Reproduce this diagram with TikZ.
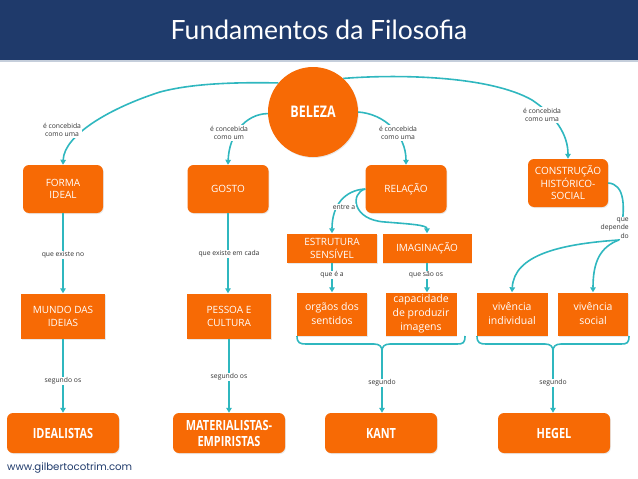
\documentclass[tikz,border=0pt]{standalone}
\usepackage{fontspec}
\setmainfont{Open Sans}
\newfontfamily\condfont[FakeStretch=0.78]{Open Sans}
\newfontfamily\titlefont{Lato}
\newfontfamily\urlfont{Poppins}
\usetikzlibrary{arrows.meta,shadows}
\definecolor{hdr}{HTML}{1F3A6B}
\definecolor{hdrline}{HTML}{C5CEDB}
\definecolor{org}{HTML}{F76A05}
\definecolor{tl}{HTML}{2FB7BF}
\definecolor{lbl}{HTML}{333333}
\begin{document}
\begin{tikzpicture}[x=1pt,y=-1pt,
  shad/.style={drop shadow={opacity=0.18,shadow xshift=0.8pt,shadow yshift=-1pt}},
  rbox/.style={shad,fill=org,rounded corners=6pt,text=white,align=center,inner sep=0pt,
    font=\fontsize{10}{12.5}\selectfont,minimum width=80pt,minimum height=48pt},
  sbox/.style={shad,fill=org,text=white,align=center,inner sep=0pt,
    font=\fontsize{10}{13}\selectfont,minimum width=84pt,minimum height=45pt},
  lbox/.style={shad,fill=org,text=white,align=center,inner sep=0pt,
    font=\fontsize{10.5}{14}\selectfont,minimum width=70pt,minimum height=43pt},
  bbox/.style={shad,fill=org,rounded corners=6pt,text=white,align=center,inner sep=0pt,
    font=\condfont\bfseries\fontsize{14}{16}\selectfont,minimum width=112pt,minimum height=40pt},
  lab/.style={fill=white,text=lbl,align=center,inner sep=1pt,font=\fontsize{6.8}{8.5}\selectfont},
  line/.style={draw=tl,line width=1.6pt},
  conn/.style={line,-{Triangle[length=5pt,width=5.5pt]}}
]
\useasboundingbox (0,0) rectangle (638,479);
% header
\fill[hdr] (0,0) rectangle (638,60);
\fill[hdrline] (0,60) rectangle (638,62);
\node[text=white,font=\titlefont\fontsize{26.5}{28}\selectfont] (title) at (319,30) {Fundamentos da Filosofia};

% central
\node[shad,circle,fill=org,minimum size=90pt,inner sep=0pt,text=white,
  font=\condfont\bfseries\fontsize{16}{18}\selectfont] (bel) at (313,112) {BELEZA};

% row 1
\node[rbox] (forma) at (63,189) {FORMA\\IDEAL};
\node[rbox,minimum width=81pt] (gosto) at (228,189) {GOSTO};
\node[rbox,minimum width=81pt] (rel) at (406,189) {RELAÇÃO};
\node[rbox] (cons) at (568,183) {CONSTRUÇÃO\\HISTÓRICO-\\SOCIAL};

% row 2
\node[sbox] (mundo) at (63,316) {MUNDO DAS\\IDEIAS};
\node[sbox] (pessoa) at (229,316) {PESSOA E\\CULTURA};
\node[sbox,minimum width=90pt,minimum height=29pt] (estr) at (332,248) {ESTRUTURA\\SENSÍVEL};
\node[sbox,minimum width=89pt,minimum height=29pt] (imag) at (427,248) {IMAGINAÇÃO};

% row 3
\node[lbox] (org) at (332,314) {orgãos dos\\sentidos};
\node[lbox,minimum width=71pt] (cap) at (421,314) {capacidade\\de produzir\\imagens};
\node[lbox,minimum width=71pt] (viv1) at (512,314) {vivência\\individual};
\node[lbox] (viv2) at (593,314) {vivência\\social};

% bottom
\node[bbox] (ideal) at (63,433) {IDEALISTAS};
\node[bbox] (mat) at (229,433) {MATERIALISTAS-\\EMPIRISTAS};
\node[bbox] (kant) at (381,433) {KANT};
\node[bbox] (hegel) at (554,433) {HEGEL};

% connectors from BELEZA
\draw[conn] (bel.140) .. controls (230,82) and (190,84) .. (160,92)
  .. controls (110,108) and (64,135) .. (forma.north);
\draw[conn] (bel.182) .. controls (245,114) and (229,135) .. (gosto.north);
\draw[conn] (bel.0) .. controls (385,114) and (406,135) .. (rel.north);
\draw[conn] (bel.48) .. controls (400,74) and (490,76) .. (532,100)
  .. controls (556,116) and (568,135) .. (cons.north);

% verticals
\draw[conn] (forma.south) -- (mundo.north);
\draw[conn] (gosto.south) -- (gosto.south |- pessoa.north);
\draw[conn] (mundo.south) -- (ideal.north);
\draw[conn] (pessoa.south) -- (mat.north);

% RELACAO branches
\draw[conn] (rel.west) .. controls (345,190) and (332,205) .. (estr.north);
\draw[conn] (rel.west) .. controls (350,193) and (352,220) .. (385,222)
  .. controls (410,224) and (427,225) .. (imag.north);
\draw[conn] (estr.south) -- (org.north);
\draw[conn] (imag.south) -- (imag.south |- cap.north);

% CONSTRUCAO branches
\coordinate (sp) at (619,240);
\draw[line] (cons.east) .. controls (624,184) and (627,205) .. (sp);
\draw[conn] (sp) .. controls (560,244) and (514,255) .. (viv1.north);
\draw[conn] (sp) .. controls (600,247) and (593,262) .. (viv2.north);

% braces
\coordinate (b1) at (382,351);
\coordinate (b2) at (553,351);
\draw[line] (297,336) .. controls (297,343) and (300,344) .. (306,344) -- (374,344)
  .. controls (380,344) and (382,347) .. (b1)
  .. controls (382,347) and (384,344) .. (390,344) -- (457,344)
  .. controls (463,344) and (465,343) .. (465,336);
\draw[line] (477,336) .. controls (477,343) and (480,344) .. (486,344) -- (545,344)
  .. controls (551,344) and (553,347) .. (b2)
  .. controls (553,347) and (555,344) .. (561,344) -- (621,344)
  .. controls (627,344) and (629,343) .. (629,336);
\draw[conn] (b1) -- (b1 |- kant.north);
\draw[conn] (b2) -- (b2 |- hegel.north);

% labels
\node[lab] (l1) at (62,130) {é concebida\\como uma};
\node[lab] (l2) at (229,133) {é concebida\\como um};
\node[lab] (l3) at (398,133) {é concebida\\como uma};
\node[lab] (l4) at (542,115) {é concebida\\como uma};
\node[lab] (l5) at (63,255) {que existe no};
\node[lab] (l6) at (229,254) {que existe em cada};
\node[lab] (l7) at (63,381) {segundo os};
\node[lab] (l8) at (229,377) {segundo os};
\node[lab] (l9) at (344,207) {entre a};
\node[lab] (l10) at (332,275) {que é a};
\node[lab] (l11) at (426,275) {que são os};
\node[lab,align=right,anchor=east] (l12) at (630,228) {que\\depende\\do};
\node[lab] (l13) at (382,383) {segundo};
\node[lab] (l14) at (553,383) {segundo};

% footer
\node[anchor=west,text=hdr,inner sep=0pt,font=\urlfont\fontsize{10.2}{11}\selectfont] (url) at (7,468) {www.gilbertocotrim.com};
\end{tikzpicture}
\end{document}
